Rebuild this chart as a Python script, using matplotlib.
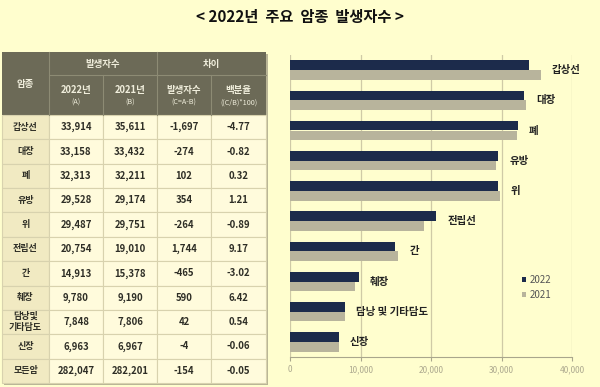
import matplotlib
matplotlib.use('Agg')
import matplotlib.pyplot as plt
from matplotlib.patches import Rectangle

plt.rcParams['font.family'] = ['Noto Sans CJK KR', 'DejaVu Sans']

# table data
rows = ['갑상선', '대장', '폐', '유방', '위', '전립선', '간', '췌장', '담낭및\n기타담도', '신장', '모든암']
cnt2022 = [33914, 33158, 32313, 29528, 29487, 20754, 14913, 9780, 7848, 6963, 282047]
cnt2021 = [35611, 33432, 32211, 29174, 29751, 19010, 15378, 9190, 7806, 6967, 282201]
diff = [-1697, -274, 102, 354, -264, 1744, -465, 590, 42, -4, -154]
pct = [-4.77, -0.82, 0.32, 1.21, -0.89, 9.17, -3.02, 6.42, 0.54, -0.06, -0.05]

# chart data
cats = ['갑상선', '대장', '폐', '유방', '위', '전립선', '간', '췌장', '담낭 및 기타담도', '신장']
v2022 = cnt2022[:10]
v2021 = cnt2021[:10]
xticks = [0, 10000, 20000, 30000, 40000]

bg = '#FFFECE'
hdr = '#6C6A57'
hdr_txt = '#F0EEDC'
col0 = '#F1EAC2'
cell = '#FFFBDC'
line = '#D8D2AE'
navy = '#1C2B4B'
khaki = '#B8B49C'

fig = plt.figure(figsize=(6, 3.87), dpi=100)
fig.patch.set_facecolor(bg)

fig.text(0.5, 1 - 17 / 387, '< 2022년  주요  암종  발생자수 >', ha='center', va='center',
         fontsize=11, fontweight='bold', color='#111111')

# ---- table drawn in pixel coords
ta = fig.add_axes([0, 0, 1, 1])
ta.set_xlim(0, 600)
ta.set_ylim(387, 0)
ta.axis('off')
ta.patch.set_alpha(0)

xs = [2, 49, 103, 157, 211, 266]
y0, y1, y2 = 52, 75, 115
rh = (383 - y2) / len(rows)

# shadow
ta.add_patch(Rectangle((xs[0] + 2, y0 + 2), xs[-1] - xs[0], 383 - y0, fc='#B9B596', ec='none', zorder=0))
ta.add_patch(Rectangle((xs[0], y0), xs[-1] - xs[0], y2 - y0, fc=hdr, ec='none', zorder=1))
hl = '#8D8B74'
ta.plot([xs[1], xs[-1]], [y1, y1], color=hl, lw=0.8, zorder=2)
for x in xs[1:-1]:
    top = y0 if x in (xs[1], xs[3]) else y1
    ta.plot([x, x], [top, y2], color=hl, lw=0.8, zorder=2)

hw = 'bold'
ta.text((xs[0] + xs[1]) / 2, (y0 + y2) / 2, '암종', ha='center', va='center', color=hdr_txt, fontsize=6.8, fontweight=hw, zorder=3)
ta.text((xs[1] + xs[3]) / 2, (y0 + y1) / 2, '발생자수', ha='center', va='center', color=hdr_txt, fontsize=6.8, fontweight=hw, zorder=3)
ta.text((xs[3] + xs[5]) / 2, (y0 + y1) / 2, '차이', ha='center', va='center', color=hdr_txt, fontsize=6.8, fontweight=hw, zorder=3)
sub = [('2022년', '(A)'), ('2021년', '(B)'), ('발생자수', '(C=A-B)'), ('백분율', '((C/B)*100)')]
for i, (a, b) in enumerate(sub):
    cx = (xs[i + 1] + xs[i + 2]) / 2
    ta.text(cx, 90, a, ha='center', va='center', color=hdr_txt, fontsize=6.8, fontweight=hw, zorder=3)
    ta.text(cx, 103, b, ha='center', va='center', color=hdr_txt, fontsize=5.2, zorder=3)

for r, name in enumerate(rows):
    ytop = y2 + r * rh
    vals = [f'{cnt2022[r]:,}', f'{cnt2021[r]:,}', f'{diff[r]:,}', f'{pct[r]:.2f}']
    for c in range(5):
        fc = col0 if c == 0 else cell
        ta.add_patch(Rectangle((xs[c], ytop), xs[c + 1] - xs[c], rh, fc=fc, ec=line, lw=0.8, zorder=1))
        txt = name if c == 0 else vals[c - 1]
        fs = 6.5 if c == 0 else 6.9
        ta.text((xs[c] + xs[c + 1]) / 2, ytop + rh / 2, txt, ha='center', va='center',
                fontsize=fs, color='#2E2E26', fontweight='bold', linespacing=1.25, zorder=3)

# ---- bar chart
ax = fig.add_axes([290 / 600, 30 / 387, 282 / 600, 302 / 387])
ax.set_facecolor(bg)
pos = list(range(len(cats)))
h = 0.32
ax.barh([p - h / 2 for p in pos], v2022, height=h, color=navy, label='2022', zorder=3)
ax.barh([p + h / 2 for p in pos], v2021, height=h, color=khaki, label='2021', zorder=3)
ax.set_ylim(len(cats) - 0.5, -0.5)
ax.set_xlim(0, 40000)
ax.set_xticks(xticks)
ax.set_xticklabels([f'{t:,}' for t in xticks], fontsize=6, color='#ADA98F')
ax.set_yticks([])
ax.grid(axis='x', color='#CFCAA6', lw=0.9, zorder=0)
for s in ['top', 'right', 'left']:
    ax.spines[s].set_visible(False)
ax.spines['bottom'].set_color('#A9A68C')
ax.tick_params(axis='x', length=3, color='#A9A68C', pad=3)

for p, name in enumerate(cats):
    m = max(v2022[p], v2021[p])
    ax.annotate(name, (m, p), xytext=(11, 0), textcoords='offset pixels',
                ha='left', va='center', fontsize=7.5, color='#222222', fontweight='bold')

leg = ax.legend(loc='center left', bbox_to_anchor=(0.79, 0.23), frameon=False, fontsize=7,
                handlelength=0.5, handleheight=0.5, handletextpad=0.3, labelspacing=0.5)
for t in leg.get_texts():
    t.set_color('#555555')

fig.savefig('out.png', dpi=100, facecolor=bg)
